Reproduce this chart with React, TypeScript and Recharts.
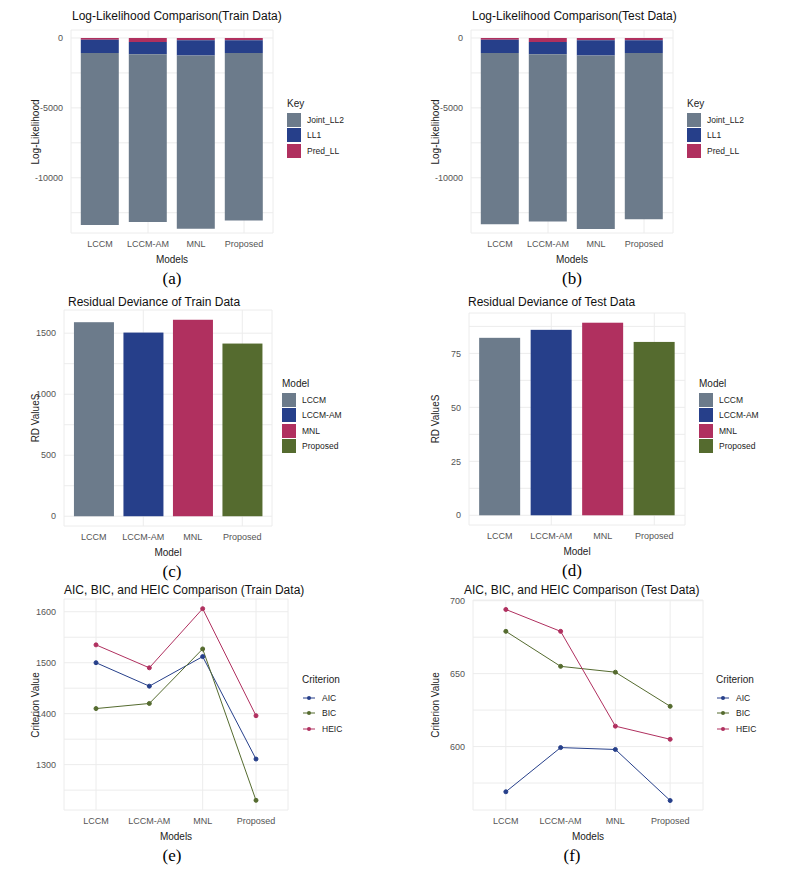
import React from "react";
import { BarChart, Bar, LineChart, Line, XAxis, YAxis, CartesianGrid } from "recharts";

const models = ["LCCM", "LCCM-AM", "MNL", "Proposed"];

// log-likelihood components (stacked, negative)
const trainPredLL = [-120, -290, -170, -170];
const trainLL1 = [-950, -880, -1090, -900];
const trainJointLL2 = [-12310, -12000, -12380, -11980];
const testPredLL = [-130, -280, -170, -160];
const testLL1 = [-940, -890, -1080, -910];
const testJointLL2 = [-12250, -11950, -12420, -11900];

// residual deviance
const trainRD = [1590, 1505, 1610, 1415];
const testRD = [82.2, 85.9, 89.2, 80.3];

// information criteria
const trainAIC = [1500, 1454, 1512, 1311];
const trainBIC = [1410, 1420, 1527, 1230];
const trainHEIC = [1535, 1490, 1606, 1396];
const testAIC = [569, 599.3, 598, 563];
const testBIC = [679, 655, 651, 627.6];
const testHEIC = [694, 679, 614, 605];

const GRAY = "#6c7b8b";
const NAVY = "#263f8a";
const RED = "#b0305f";
const GREEN = "#556b2f";
const FONT = "'Liberation Sans', Arial, sans-serif";

const tickStyle = { fontSize: 9, fill: "#555", fontFamily: FONT };

interface Box {
  left: number;
  right: number;
  top: number;
  bottom: number;
}

function Frame({ x, y, title, titleLeft, titleTop, xLabel, yLabel, box, caption, children, legend }: any) {
  return (
    <div style={{ position: "absolute", left: x, top: y, width: 400, height: 290, fontFamily: FONT }}>
      <div style={{ position: "absolute", left: titleLeft, top: titleTop, fontSize: 12, color: "#111", whiteSpace: "nowrap" }}>
        {title}
      </div>
      {children}
      <div
        style={{
          position: "absolute",
          left: 35,
          top: (box.top + box.bottom) / 2,
          fontSize: 10,
          color: "#222",
          whiteSpace: "nowrap",
          transform: "translate(-50%, -50%) rotate(-90deg)",
        }}
      >
        {yLabel}
      </div>
      <div
        style={{
          position: "absolute",
          left: (box.left + box.right) / 2,
          top: box.bottom + 21,
          fontSize: 10,
          color: "#222",
          transform: "translateX(-50%)",
        }}
      >
        {xLabel}
      </div>
      <div
        style={{
          position: "absolute",
          left: 172,
          top: box.bottom + 36,
          fontSize: 17,
          fontFamily: "'Liberation Serif', serif",
          transform: "translateX(-50%)",
        }}
      >
        {caption}
      </div>
      {legend}
    </div>
  );
}

function BoxLegend({ left, top, title, items }: any) {
  return (
    <div style={{ position: "absolute", left, top, fontSize: 8.5, color: "#222" }}>
      <div style={{ fontSize: 10, marginBottom: 3 }}>{title}</div>
      {items.map((it: any) => (
        <div key={it.name} style={{ display: "flex", alignItems: "center", height: 15.5 }}>
          <div style={{ width: 14, height: 14, background: it.color, marginRight: 6 }} />
          {it.name}
        </div>
      ))}
    </div>
  );
}

function LineLegend({ left, top, items }: any) {
  return (
    <div style={{ position: "absolute", left, top, fontSize: 8.5, color: "#222" }}>
      <div style={{ fontSize: 10, marginBottom: 5 }}>Criterion</div>
      {items.map((it: any) => (
        <div key={it.name} style={{ display: "flex", alignItems: "center", height: 15.5 }}>
          <svg width={14} height={8} style={{ marginRight: 6 }}>
            <line x1={1} y1={4} x2={13} y2={4} stroke={it.color} strokeWidth={1} />
            <circle cx={7} cy={4} r={2} fill={it.color} />
          </svg>
          {it.name}
        </div>
      ))}
    </div>
  );
}

function fmt(labels: number[]) {
  return (v: number) => (labels.includes(v) ? String(v) : "");
}

function chartProps(box: Box) {
  return {
    width: box.right + 5,
    height: box.bottom + 30,
    margin: { top: box.top, right: 5, bottom: 10, left: 0 },
  };
}

function StackPanel({ x, y, title, caption, pred, ll1, joint }: any) {
  const box: Box = { left: 71, right: 273, top: 30, bottom: 233 };
  const data = models.map((m, i) => ({ model: m, Pred_LL: pred[i], LL1: ll1[i], Joint_LL2: joint[i] }));
  return (
    <Frame
      x={x}
      y={y}
      title={title}
      titleLeft={72}
      titleTop={9}
      xLabel="Models"
      yLabel="Log-Likelihood"
      box={box}
      caption={caption}
      legend={
        <BoxLegend
          left={287}
          top={98}
          title="Key"
          items={[
            { name: "Joint_LL2", color: GRAY },
            { name: "LL1", color: NAVY },
            { name: "Pred_LL", color: RED },
          ]}
        />
      }
    >
      <BarChart {...chartProps(box)} data={data} stackOffset="sign" barCategoryGap="10%" style={{ position: "absolute", left: 0, top: 0 }}>
        <CartesianGrid stroke="#ececec" />
        <XAxis dataKey="model" height={20} tick={tickStyle} axisLine={false} tickLine={false} padding={{ left: 5, right: 5 }} />
        <YAxis
          width={box.left}
          domain={[-13950, 570]}
          ticks={[-12500, -10000, -7500, -5000, -2500, 0]}
          tickFormatter={fmt([-10000, -5000, 0])}
          tick={tickStyle}
          axisLine={false}
          tickLine={false}
        />
        <Bar dataKey="Pred_LL" stackId="a" fill={RED} isAnimationActive={false} />
        <Bar dataKey="LL1" stackId="a" fill={NAVY} isAnimationActive={false} />
        <Bar dataKey="Joint_LL2" stackId="a" fill={GRAY} isAnimationActive={false} />
      </BarChart>
    </Frame>
  );
}

const modelColors = [GRAY, NAVY, RED, GREEN];

function RDPanel({ x, y, title, caption, values, box, domain, ticks, labels, legendLeft }: any) {
  const data = models.map((m, i) => ({ model: m, rd: values[i] }));
  return (
    <Frame
      x={x}
      y={y}
      title={title}
      titleLeft={68}
      titleTop={5}
      xLabel="Model"
      yLabel="RD ValueS"
      box={box}
      caption={caption}
      legend={
        <BoxLegend left={legendLeft} top={88} title="Model" items={models.map((m, i) => ({ name: m, color: modelColors[i] }))} />
      }
    >
      <BarChart {...chartProps(box)} data={data} barCategoryGap="10%" style={{ position: "absolute", left: 0, top: 0 }}>
        <CartesianGrid stroke="#ececec" />
        <XAxis dataKey="model" height={20} tick={tickStyle} axisLine={false} tickLine={false} padding={{ left: 5, right: 5 }} />
        <YAxis width={box.left} domain={domain} ticks={ticks} tickFormatter={fmt(labels)} tick={tickStyle} axisLine={false} tickLine={false} />
        <Bar dataKey="rd" isAnimationActive={false} shape={(p: any) => <rect x={p.x} y={p.y} width={p.width} height={p.height} fill={modelColors[p.index]} />} />
      </BarChart>
    </Frame>
  );
}

function ICPanel({ x, y, title, caption, aic, bic, heic, box, domain, ticks, labels, legendLeft }: any) {
  const data = models.map((m, i) => ({ model: m, AIC: aic[i], BIC: bic[i], HEIC: heic[i] }));
  const pad = ((box.right - box.left) / 4.2) * 0.6;
  return (
    <Frame
      x={x}
      y={y}
      title={title}
      titleLeft={64}
      titleTop={13}
      xLabel="Models"
      yLabel="Criterion Value"
      box={box}
      caption={caption}
      legend={
        <LineLegend
          left={legendLeft}
          top={104}
          items={[
            { name: "AIC", color: NAVY },
            { name: "BIC", color: GREEN },
            { name: "HEIC", color: RED },
          ]}
        />
      }
    >
      <LineChart {...chartProps(box)} data={data} style={{ position: "absolute", left: 0, top: 0 }}>
        <CartesianGrid stroke="#ececec" />
        <XAxis dataKey="model" height={20} tick={tickStyle} axisLine={false} tickLine={false} padding={{ left: pad, right: pad }} />
        <YAxis width={box.left} domain={domain} ticks={ticks} tickFormatter={fmt(labels)} tick={tickStyle} axisLine={false} tickLine={false} />
        <Line dataKey="AIC" stroke={NAVY} strokeWidth={1} dot={{ r: 2, fill: NAVY, stroke: NAVY }} isAnimationActive={false} />
        <Line dataKey="BIC" stroke={GREEN} strokeWidth={1} dot={{ r: 2, fill: GREEN, stroke: GREEN }} isAnimationActive={false} />
        <Line dataKey="HEIC" stroke={RED} strokeWidth={1} dot={{ r: 2, fill: RED, stroke: RED }} isAnimationActive={false} />
      </LineChart>
    </Frame>
  );
}

export default function App() {
  return (
    <div style={{ position: "absolute", left: 0, top: 0, width: 795, height: 876, background: "#fff" }}>
      <StackPanel x={0} y={0} title="Log-Likelihood Comparison(Train Data)" caption="(a)" pred={trainPredLL} ll1={trainLL1} joint={trainJointLL2} />
      <StackPanel x={400} y={0} title="Log-Likelihood Comparison(Test Data)" caption="(b)" pred={testPredLL} ll1={testLL1} joint={testJointLL2} />
      <RDPanel
        x={0}
        y={290}
        title="Residual Deviance of Train Data"
        caption="(c)"
        values={trainRD}
        box={{ left: 64, right: 272, top: 20, bottom: 236 }}
        domain={[-80, 1690]}
        ticks={[0, 250, 500, 750, 1000, 1250, 1500]}
        labels={[0, 500, 1000, 1500]}
        legendLeft={282}
      />
      <RDPanel
        x={400}
        y={290}
        title="Residual Deviance of Test Data"
        caption="(d)"
        values={testRD}
        box={{ left: 69, right: 285, top: 23, bottom: 235 }}
        domain={[-4.5, 93.7]}
        ticks={[0, 12.5, 25, 37.5, 50, 62.5, 75, 87.5]}
        labels={[0, 25, 50, 75]}
        legendLeft={299}
      />
      <ICPanel
        x={0}
        y={570}
        title="AIC, BIC, and HEIC Comparison (Train Data)"
        caption="(e)"
        aic={trainAIC}
        bic={trainBIC}
        heic={trainHEIC}
        box={{ left: 64, right: 288, top: 29, bottom: 240 }}
        domain={[1211, 1625]}
        ticks={[1250, 1300, 1350, 1400, 1450, 1500, 1550, 1600]}
        labels={[1300, 1400, 1500, 1600]}
        legendLeft={302}
      />
      <ICPanel
        x={400}
        y={570}
        title="AIC, BIC, and HEIC Comparison (Test Data)"
        caption="(f)"
        aic={testAIC}
        bic={testBIC}
        heic={testHEIC}
        box={{ left: 73, right: 303, top: 30, bottom: 240 }}
        domain={[556.5, 700.5]}
        ticks={[575, 600, 625, 650, 675, 700]}
        labels={[600, 650, 700]}
        legendLeft={316}
      />
    </div>
  );
}
